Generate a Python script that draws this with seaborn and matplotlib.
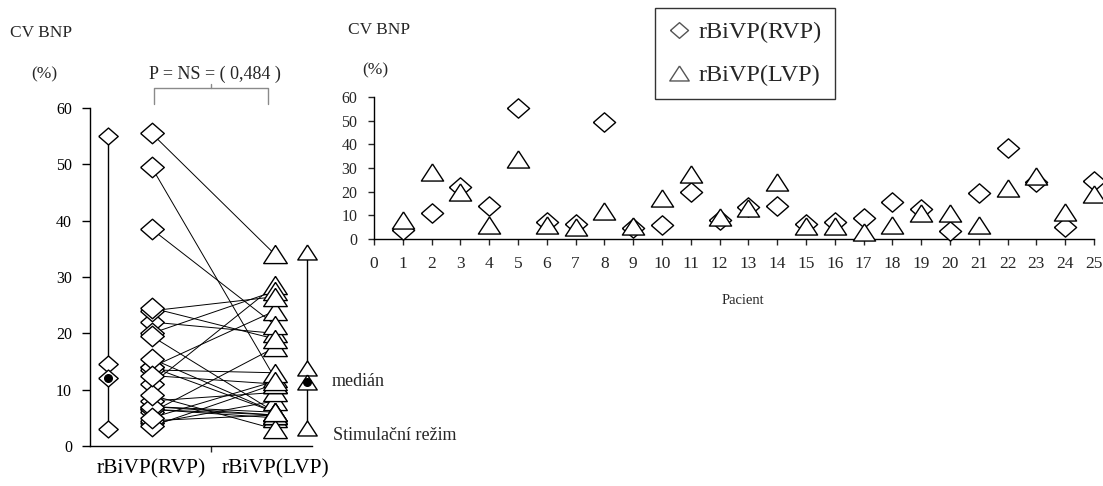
import numpy as np
import pandas as pd
import matplotlib
matplotlib.use("Agg")
import matplotlib.pyplot as plt
from matplotlib.lines import Line2D
import seaborn as sns

# ---------------- data ----------------
patients = list(range(1, 26))
rvp = [4, 11, 22, 14, 55.5, 7, 6.5, 49.5, 4.5, 6, 20, 8, 13.5, 14, 6.5, 7, 9, 15.5, 12.5, 3.5, 19.5, 38.5, 24, 5, 24.5]
lvp = [8, 28.5, 20, 6, 34, 6, 5, 12, 5.5, 17.5, 27.5, 9.5, 13, 24, 5.5, 5.5, 3, 6, 11, 11, 6, 21.5, 26.5, 11.5, 19]
categories = ["rBiVP(RVP)", "rBiVP(LVP)"]
rvp_summary = [55, 14.5, 12, 3]     # max, upper marker, median, min
lvp_summary = [34.5, 13.8, 11.4, 3.2]
p_text = "P = NS = ( 0,484 )"
y_ticks = [0, 10, 20, 30, 40, 50, 60]
x_ticks_right = list(range(0, 26))

# ---------------- style ----------------
sns.set_theme(style="white")
plt.rcParams["font.family"] = ["Liberation Serif", "DejaVu Serif"]
plt.rcParams["axes.linewidth"] = 1.0

W, H = 1103, 486
fig = plt.figure(figsize=(W / 100, H / 100), dpi=100)
fig.patch.set_facecolor("white")


def fx(x):
    return x / W


def fy(y):
    return 1 - y / H


diamond = [(-1.15, 0), (0, 1), (1.15, 0), (0, -1), (-1.15, 0)]
triangle = [(0, 1), (-1.3, -1), (1.3, -1), (0, 1)]

# ---------------- left panel ----------------
axL = fig.add_axes([fx(90), fy(446), fx(312 - 90), (446 - 108) / H])
axL.set_xlim(0.5, 2.3)
axL.set_ylim(0, 60)

long = pd.DataFrame({
    "patient": patients * 2,
    "pos": [1] * len(rvp) + [2] * len(lvp),
    "value": rvp + lvp,
})
sns.lineplot(data=long, x="pos", y="value", units="patient", estimator=None,
             color="black", lw=0.7, ax=axL, legend=False, zorder=2)
sns.scatterplot(x=[1] * len(rvp), y=rvp, marker=diamond, s=17 ** 2, color="white",
                edgecolor="black", linewidth=1, ax=axL, zorder=3, clip_on=False)
sns.scatterplot(x=[2] * len(lvp), y=lvp, marker=triangle, s=17 ** 2, color="white",
                edgecolor="black", linewidth=1, ax=axL, zorder=3, clip_on=False)

# summary range bars
xr_l, xr_r = 0.646, 2.26
axL.vlines(xr_l, min(rvp_summary), max(rvp_summary), color="black", lw=1, zorder=2)
axL.vlines(xr_r, min(lvp_summary), max(lvp_summary), color="black", lw=1, zorder=2)
sns.scatterplot(x=[xr_l] * 4, y=rvp_summary, marker=diamond, s=14 ** 2, color="white",
                edgecolor="black", linewidth=1, ax=axL, zorder=3, clip_on=False)
sns.scatterplot(x=[xr_r] * 4, y=lvp_summary, marker=triangle, s=14 ** 2, color="white",
                edgecolor="black", linewidth=1, ax=axL, zorder=3, clip_on=False)
axL.scatter([xr_l, xr_r], [rvp_summary[2], lvp_summary[2]], s=30, color="black", zorder=4,
            clip_on=False)

for s in ["top", "right"]:
    axL.spines[s].set_visible(False)
for s in ["left", "bottom"]:
    axL.spines[s].set_color("black")
axL.set_yticks(y_ticks)
axL.set_yticklabels([str(v) for v in y_ticks], fontsize=11.5)
axL.tick_params(axis="y", direction="out", length=6, width=1, pad=7, left=True, colors="black")
axL.set_xticks([1.48])
axL.set_xticklabels([""])
axL.tick_params(axis="x", direction="out", length=4, width=1, bottom=True)
axL.set_xlabel("")
axL.set_ylabel("")
for xpos, lab in zip([1, 2], categories):
    axL.text(xpos, -0.068, lab, transform=axL.get_xaxis_transform(), ha="center", va="center",
             fontsize=15.5, color="black")

# ---------------- right panel ----------------
axR = fig.add_axes([fx(374), fy(239), fx(1094 - 374), (239 - 97) / H])
axR.set_xlim(0, 25)
axR.set_ylim(0, 60)
sns.scatterplot(x=patients, y=rvp, marker=diamond, s=16 ** 2, color="white",
                edgecolor="black", linewidth=1, ax=axR, zorder=3, clip_on=False)
sns.scatterplot(x=patients, y=lvp, marker=triangle, s=16 ** 2, color="white",
                edgecolor="black", linewidth=1, ax=axR, zorder=4, clip_on=False)
for s in ["top", "right"]:
    axR.spines[s].set_visible(False)
for s in ["left", "bottom"]:
    axR.spines[s].set_color("black")
axR.set_yticks(y_ticks)
axR.set_yticklabels([str(v) for v in y_ticks], fontsize=11.5)
axR.set_xticks(x_ticks_right)
axR.set_xticklabels([str(v) for v in x_ticks_right], fontsize=12.5)
axR.tick_params(axis="y", direction="out", length=4, width=1, pad=8, left=True)
axR.tick_params(axis="x", direction="out", length=4, width=1, pad=8, bottom=True)
axR.set_xlabel("")
axR.set_ylabel("")

# ---------------- texts ----------------
fig.text(fx(10), fy(33), "CV BNP", fontsize=12.5, ha="left", va="center")
fig.text(fx(44), fy(74), "(%)", fontsize=12.5, ha="center", va="center")
fig.text(fx(215), fy(74), p_text, fontsize=13, ha="center", va="center")
fig.text(fx(348), fy(30), "CV BNP", fontsize=12.5, ha="left", va="center")
fig.text(fx(375), fy(70), "(%)", fontsize=12.5, ha="center", va="center")
fig.text(fx(743), fy(300), "Pacient", fontsize=10.5, ha="center", va="center")
fig.text(fx(332), fy(382), "medián", fontsize=13, ha="left", va="center")
fig.text(fx(333), fy(435), "Stimulační režim", fontsize=13, ha="left", va="center")

# significance bracket
br_col = "#8a8a8a"
fig.add_artist(Line2D([fx(154), fx(154), fx(268), fx(268)], [fy(104), fy(88), fy(88), fy(104)],
                      color=br_col, lw=1, transform=fig.transFigure))
fig.add_artist(Line2D([fx(211), fx(211)], [fy(88), fy(84)], color=br_col, lw=1,
                      transform=fig.transFigure))

# legend
handles = [
    Line2D([], [], marker=diamond, ls="none", ms=13, mfc="white", mec="#555555", mew=1),
    Line2D([], [], marker=triangle, ls="none", ms=14, mfc="white", mec="#555555", mew=1),
]
leg = fig.legend(handles, categories, loc="upper left", bbox_to_anchor=(fx(655), fy(8)),
                 frameon=True, fancybox=False, edgecolor="black", fontsize=17.5,
                 handlelength=0.9, handletextpad=0.35, labelspacing=0.85, borderpad=0.55,
                 borderaxespad=0)
leg.get_frame().set_linewidth(1.0)

fig.savefig("out.png", dpi=100, facecolor="white")
